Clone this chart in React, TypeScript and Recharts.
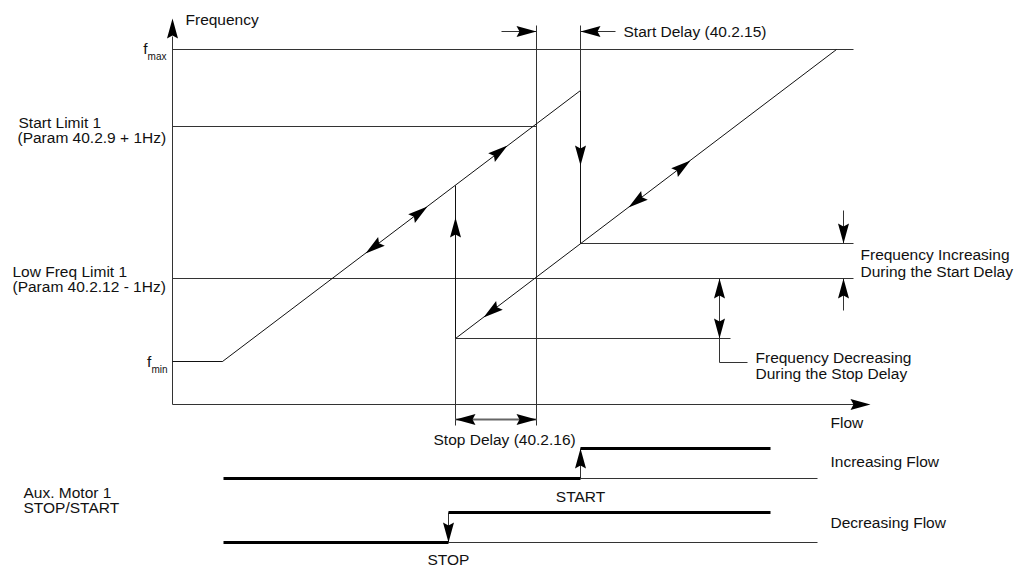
import { ComposedChart, Line, XAxis, YAxis, ReferenceLine, ReferenceDot } from "recharts";

const FONT = '"Liberation Sans", Arial, Helvetica, sans-serif';
const INK = "#111";
const GUIDE = "#333";

// frequency levels (flow axis sits at 0)
const F_MAX = 355;
const START_LIMIT = 278;
const LOW_LIMIT = 126;
const F_MIN = 43;
const START_LEVEL = 161; // where the frequency lands after the aux motor starts
const STOP_LEVEL = 66; // where it lands after the aux motor stops

// flow breakpoints
const RAMP_START = 50;
const STOP_FLOW = 283;
const DELAY_EDGE = 364;
const START_FLOW = 408;
const RAMP_END = 664;
const LINE_END = 681;

// frequency vs flow, rising and falling paths
const risingPath = [
  { flow: 0, freq: F_MIN },
  { flow: RAMP_START, freq: F_MIN },
  { flow: START_FLOW, freq: 314 },
  { flow: START_FLOW, freq: START_LEVEL },
];
const fallingPath = [
  { flow: RAMP_END, freq: F_MAX },
  { flow: STOP_FLOW, freq: STOP_LEVEL },
  { flow: STOP_FLOW, freq: 219 },
];

// limit lines: level + flow extent
const limitLines = [
  { freq: F_MAX, from: 0, to: LINE_END },
  { freq: START_LIMIT, from: 0, to: DELAY_EDGE },
  { freq: LOW_LIMIT, from: 0, to: LINE_END },
  { freq: START_LEVEL, from: START_FLOW, to: LINE_END },
  { freq: STOP_LEVEL, from: STOP_FLOW, to: 558 },
  { freq: F_MIN, from: 0, to: RAMP_START },
];

// aux motor stop/start signals (lower strip)
const SIG_FROM = 51;
const SIG_TO = 598;
const BASE_TO = 645;
const INC_LOW = -74;
const INC_HIGH = -44;
const DEC_LOW = -138;
const DEC_HIGH = -108;
const STOP_SWITCH = 276;

const incLow = [{ flow: SIG_FROM, level: INC_LOW }, { flow: START_FLOW, level: INC_LOW }];
const incHigh = [{ flow: START_FLOW, level: INC_HIGH }, { flow: SIG_TO, level: INC_HIGH }];
const decLow = [{ flow: SIG_FROM, level: DEC_LOW }, { flow: STOP_SWITCH, level: DEC_LOW }];
const decHigh = [{ flow: STOP_SWITCH, level: DEC_HIGH }, { flow: SIG_TO, level: DEC_HIGH }];

// thin guide / dimension segments [x1, y1, x2, y2]
const guides = [
  [0, 0, 0, 368], // frequency axis
  [0, 0, 682, 0], // flow axis
  [DELAY_EDGE, 379, DELAY_EDGE, -21],
  [START_FLOW, 379, START_FLOW, 314],
  [STOP_FLOW, STOP_LEVEL, STOP_FLOW, -21],
  [329, 373, DELAY_EDGE, 373],
  [START_FLOW, 373, 443, 373],
  [671, 194, 671, START_LEVEL],
  [671, 94, 671, LOW_LIMIT],
  [547, LOW_LIMIT, 547, STOP_LEVEL],
  [547, STOP_LEVEL, 547, 42],
  [547, 42, 575, 42],
  [START_FLOW, INC_LOW, 645, INC_LOW],
  [START_FLOW, INC_LOW, START_FLOW, INC_HIGH],
  [STOP_SWITCH, DEC_LOW, BASE_TO, DEC_LOW],
  [STOP_SWITCH, DEC_HIGH, STOP_SWITCH, DEC_LOW],
];

const slope = (risingPath[2].freq - risingPath[1].freq) / (risingPath[2].flow - risingPath[1].flow);
const rampDeg = (Math.atan(slope) * 180) / Math.PI;
const dirAngle: Record<string, number> = {
  right: 0,
  left: 180,
  up: -90,
  down: 90,
  upRight: -rampDeg,
  downLeft: 180 - rampDeg,
};

// arrow tips
const arrows = [
  { flow: 0, freq: 386, dir: "up" },
  { flow: 698, freq: 0, dir: "right" },
  { flow: 193, freq: 151, dir: "downLeft" },
  { flow: 255, freq: 198, dir: "upRight" },
  { flow: 335, freq: 259, dir: "upRight" },
  { flow: 311, freq: 87, dir: "downLeft" },
  { flow: 456, freq: 197, dir: "downLeft" },
  { flow: 518, freq: 244, dir: "upRight" },
  { flow: START_FLOW, freq: 239, dir: "down" },
  { flow: STOP_FLOW, freq: 187, dir: "up" },
  { flow: DELAY_EDGE, freq: 373, dir: "right" },
  { flow: START_FLOW, freq: 373, dir: "left" },
  { flow: STOP_FLOW, freq: -15, dir: "left" },
  { flow: DELAY_EDGE, freq: -15, dir: "right" },
  { flow: 671, freq: START_LEVEL, dir: "down" },
  { flow: 671, freq: LOW_LIMIT, dir: "up" },
  { flow: 547, freq: LOW_LIMIT, dir: "up" },
  { flow: 547, freq: STOP_LEVEL, dir: "down" },
  { flow: START_FLOW, freq: INC_HIGH, dir: "up" },
  { flow: STOP_SWITCH, freq: DEC_LOW, dir: "down" },
];

const notes = [
  { text: "Frequency", flow: 13, freq: 380, anchor: "start" },
  { text: "Start Delay (40.2.15)", flow: 451, freq: 368, anchor: "start" },
  { text: "Start Limit 1", flow: -154, freq: 277, anchor: "start" },
  { text: "(Param 40.2.9 + 1Hz)", flow: -155, freq: 262, anchor: "start" },
  { text: "Low Freq Limit 1", flow: -160, freq: 128, anchor: "start" },
  { text: "(Param 40.2.12 - 1Hz)", flow: -160, freq: 113, anchor: "start" },
  { text: "Frequency Increasing", flow: 688, freq: 145, anchor: "start" },
  { text: "During the Start Delay", flow: 688, freq: 128, anchor: "start" },
  { text: "Frequency Decreasing", flow: 583, freq: 42, anchor: "start" },
  { text: "During the Stop Delay", flow: 583, freq: 26, anchor: "start" },
  { text: "Flow", flow: 658, freq: -23, anchor: "start" },
  { text: "Stop Delay (40.2.16)", flow: 261, freq: -40, anchor: "start" },
  { text: "Increasing Flow", flow: 658, freq: -62, anchor: "start" },
  { text: "START", flow: START_FLOW, freq: -97, anchor: "middle" },
  { text: "Aux. Motor 1", flow: -149, freq: -93, anchor: "start" },
  { text: "STOP/START", flow: -149, freq: -108, anchor: "start" },
  { text: "Decreasing Flow", flow: 658, freq: -123, anchor: "start" },
  { text: "STOP", flow: STOP_SWITCH, freq: -160, anchor: "middle" },
];

const subLabels = [
  { main: "f", sub: "max", flow: -6, freq: 351 },
  { main: "f", sub: "min", flow: -5, freq: 38 },
];

function ArrowHead({ cx, cy, angle }: { cx?: number; cy?: number; angle: number }) {
  if (cx == null || cy == null) return null;
  return (
    <polygon
      points="0,0 -20,-5.5 -17,0 -20,5.5"
      transform={`translate(${cx},${cy}) rotate(${angle})`}
      fill="#000"
    />
  );
}

export default function App() {
  return (
    <div style={{ position: "absolute", left: 0, top: 0, background: "#fff" }}>
      <ComposedChart width={1018} height={567} margin={{ top: 0, right: 0, bottom: 0, left: 0 }}>
        <XAxis type="number" dataKey="flow" domain={[-172.5, 845.5]} hide allowDataOverflow />
        <YAxis type="number" domain={[-162.5, 404.5]} hide allowDataOverflow />

        {limitLines.map((l, i) => (
          <ReferenceLine
            key={`lim${i}`}
            segment={[
              { x: l.from, y: l.freq },
              { x: l.to, y: l.freq },
            ]}
            stroke={GUIDE}
            strokeWidth={1}
            ifOverflow="visible"
          />
        ))}
        {guides.map((g, i) => (
          <ReferenceLine
            key={`g${i}`}
            segment={[
              { x: g[0], y: g[1] },
              { x: g[2], y: g[3] },
            ]}
            stroke={GUIDE}
            strokeWidth={1}
            ifOverflow="visible"
          />
        ))}
        <ReferenceLine
          segment={[
            { x: STOP_FLOW, y: -15 },
            { x: DELAY_EDGE, y: -15 },
          ]}
          stroke="#666"
          strokeWidth={2}
          ifOverflow="visible"
        />

        <Line data={risingPath} dataKey="freq" type="linear" stroke={INK} strokeWidth={1} dot={false} activeDot={false} isAnimationActive={false} />
        <Line data={fallingPath} dataKey="freq" type="linear" stroke={INK} strokeWidth={1} dot={false} activeDot={false} isAnimationActive={false} />

        {[incLow, incHigh, decLow, decHigh].map((d, i) => (
          <Line
            key={`sig${i}`}
            data={d}
            dataKey="level"
            type="linear"
            stroke="#000"
            strokeWidth={3}
            dot={false}
            activeDot={false}
            isAnimationActive={false}
          />
        ))}

        {arrows.map((a, i) => (
          <ReferenceDot
            key={`a${i}`}
            x={a.flow}
            y={a.freq}
            ifOverflow="visible"
            shape={(p: any) => <ArrowHead cx={p.cx} cy={p.cy} angle={dirAngle[a.dir]} />}
          />
        ))}

        {notes.map((n, i) => (
          <ReferenceDot
            key={`t${i}`}
            x={n.flow}
            y={n.freq}
            ifOverflow="visible"
            shape={(p: any) => (
              <text x={p.cx} y={p.cy} textAnchor={n.anchor} fontFamily={FONT} fontSize={15.5} fill={INK}>
                {n.text}
              </text>
            )}
          />
        ))}
        {subLabels.map((s, i) => (
          <ReferenceDot
            key={`s${i}`}
            x={s.flow}
            y={s.freq}
            ifOverflow="visible"
            shape={(p: any) => (
              <text x={p.cx} y={p.cy} textAnchor="end" fontFamily={FONT} fill={INK}>
                <tspan fontSize={15.5}>{s.main}</tspan>
                <tspan fontSize={10} dy={6}>
                  {s.sub}
                </tspan>
              </text>
            )}
          />
        ))}
      </ComposedChart>
    </div>
  );
}
